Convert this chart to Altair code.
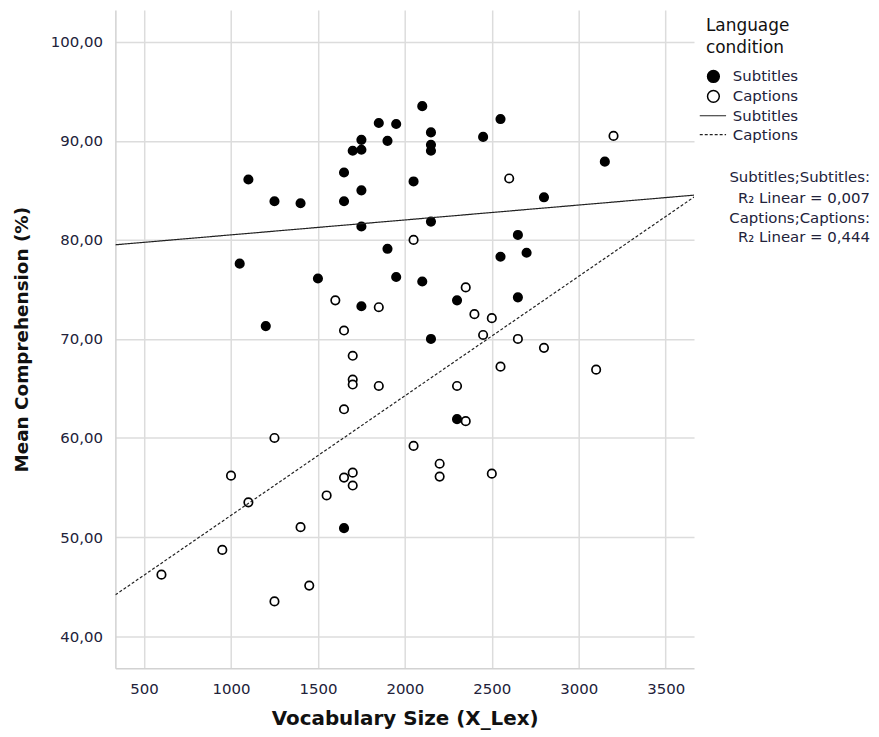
import altair as alt
import pandas as pd

# Subtitles (filled points)
sub_x = [1850, 1950, 1750, 1900, 1700, 1750, 1650, 1100, 1750, 1250, 1400, 1650, 1750,
         2100, 2150, 2150, 2150, 2450, 2550, 2050, 3150, 2800, 2150, 2650, 1050, 1500,
         1900, 1950, 1750, 1200, 2550, 2700, 2100, 2300, 2650, 2150, 2300, 1650]
sub_y = [91.8, 91.7, 90.1, 90.0, 89.0, 89.1, 86.8, 86.1, 85.0, 83.9, 83.7, 83.9, 81.35,
         93.5, 90.85, 89.6, 89.0, 90.4, 92.2, 85.9, 87.9, 84.3, 81.85, 80.5, 77.6, 76.1,
         79.1, 76.25, 73.3, 71.3, 78.3, 78.7, 75.8, 73.9, 74.2, 70.0, 61.9, 50.9]

# Captions (open points)
cap_x = [3200, 2600, 2050, 1600, 1850, 1650, 1700, 1700, 1700, 1850, 1650, 1250, 2350,
         2400, 2500, 2450, 2650, 2800, 2550, 3100, 2300, 2350, 2050, 2200, 2200, 2500,
         1000, 1100, 600, 950, 1250, 1450, 1400, 1550, 1650, 1700, 1700]
cap_y = [90.5, 86.2, 80.0, 73.9, 73.2, 70.85, 68.3, 65.9, 65.4, 65.25, 62.9, 60.0, 75.2,
         72.5, 72.1, 70.4, 70.0, 69.1, 67.2, 66.9, 65.25, 61.7, 59.2, 57.4, 56.1, 56.4,
         56.2, 53.5, 46.2, 48.7, 43.5, 45.1, 51.0, 54.2, 56.0, 56.5, 55.2]

conditions = ["Subtitles", "Captions"]
x_ticks = [500, 1000, 1500, 2000, 2500, 3000, 3500]
y_ticks = [40, 50, 60, 70, 80, 90, 100]
r2_lines = ["Subtitles;Subtitles:", "R\u2082 Linear = 0,007",
            "Captions;Captions:", "R\u2082 Linear = 0,444"]

df = pd.DataFrame({
    "x": sub_x + cap_x,
    "y": sub_y + cap_y,
    "cond": ["Subtitles"] * len(sub_x) + ["Captions"] * len(cap_x),
})
df["cond_line"] = df["cond"]

FONT = "DejaVu Sans"
LBL = "#22223a"
x_dom = [335, 3663]
y_dom = [36.75, 103.2]

xenc = alt.X("x:Q", scale=alt.Scale(domain=x_dom, nice=False, zero=False),
             axis=alt.Axis(values=x_ticks, title="Vocabulary Size (X_Lex)", format="d",
                           ticks=False, labelPadding=13, labelFontSize=15, labelColor=LBL,
                           labelFont=FONT, titleFont=FONT, titleFontSize=20,
                           titleFontWeight="bold", titleColor="#111", titlePadding=13,
                           gridColor="#dcdcdc", gridWidth=1.5, domainColor="#d2d2d2",
                           domainWidth=1.5, labelFlush=False))
yenc = alt.Y("y:Q", scale=alt.Scale(domain=y_dom, nice=False, zero=False),
             axis=alt.Axis(values=y_ticks, title="Mean Comprehension (%)",
                           labelExpr="replace(format(datum.value, '.2f'), '.', ',')",
                           ticks=False, labelPadding=13, labelFontSize=15, labelColor=LBL,
                           labelFont=FONT, titleFont=FONT, titleFontSize=18.5,
                           titleFontWeight="bold", titleColor="#111", titlePadding=19,
                           gridColor="#dcdcdc", gridWidth=1.5, domainColor="#d2d2d2",
                           domainWidth=1.5, labelFlush=False))

points = alt.Chart(df).mark_point(shape="circle", size=72, strokeWidth=1.7,
                                  stroke="black", opacity=1, filled=False).encode(
    x=xenc, y=yenc,
    fill=alt.Fill("cond:N",
                  scale=alt.Scale(domain=conditions, range=["black", "white"]),
                  legend=alt.Legend(title=["Language", "condition"], orient="none",
                                    legendX=594, legendY=8, titleFont=FONT,
                                    titleFontSize=17, titleFontWeight="normal",
                                    titleColor="#111", titlePadding=10,
                                    titleLineHeight=22,
                                    labelFont=FONT, labelFontSize=15, labelColor=LBL,
                                    symbolType="circle", symbolSize=140,
                                    symbolStrokeColor="black", symbolStrokeWidth=1.5,
                                    labelOffset=12, clipHeight=19.5, rowPadding=0,
                                    padding=0)),
)

lines = alt.Chart(df).transform_regression(
    "x", "y", groupby=["cond_line"], extent=x_dom
).mark_line(color="#222", strokeWidth=1.2, clip=True).encode(
    x=xenc, y=yenc,
    strokeDash=alt.StrokeDash("cond_line:N", sort=conditions,
                              scale=alt.Scale(range=[[1, 0], [3, 2]]),
                              legend=alt.Legend(title=None, orient="none",
                                                legendX=587, legendY=97,
                                                labelFont=FONT, labelFontSize=15,
                                                labelColor=LBL, symbolType="stroke",
                                                symbolSize=700, symbolStrokeColor="#222",
                                                symbolStrokeWidth=1.2, labelOffset=6,
                                                clipHeight=18.5, rowPadding=0,
                                                padding=0)),
)

texts = []
row_y = [168, 189, 209, 228]
for t, yy in zip(r2_lines, row_y):
    texts.append(
        alt.Chart(pd.DataFrame({"t": [t]})).mark_text(
            align="right", baseline="middle", font=FONT, fontSize=15, color=LBL
        ).encode(text="t:N", x=alt.value(759), y=alt.value(yy))
    )

chart = alt.layer(points, lines, *texts).properties(
    width=582, height=662, autosize="none",
    padding={"left": 108, "top": 0, "right": 178, "bottom": 66},
).configure_view(strokeWidth=0)

chart.save("out.html", embed_options={"renderer": "svg", "actions": False})
